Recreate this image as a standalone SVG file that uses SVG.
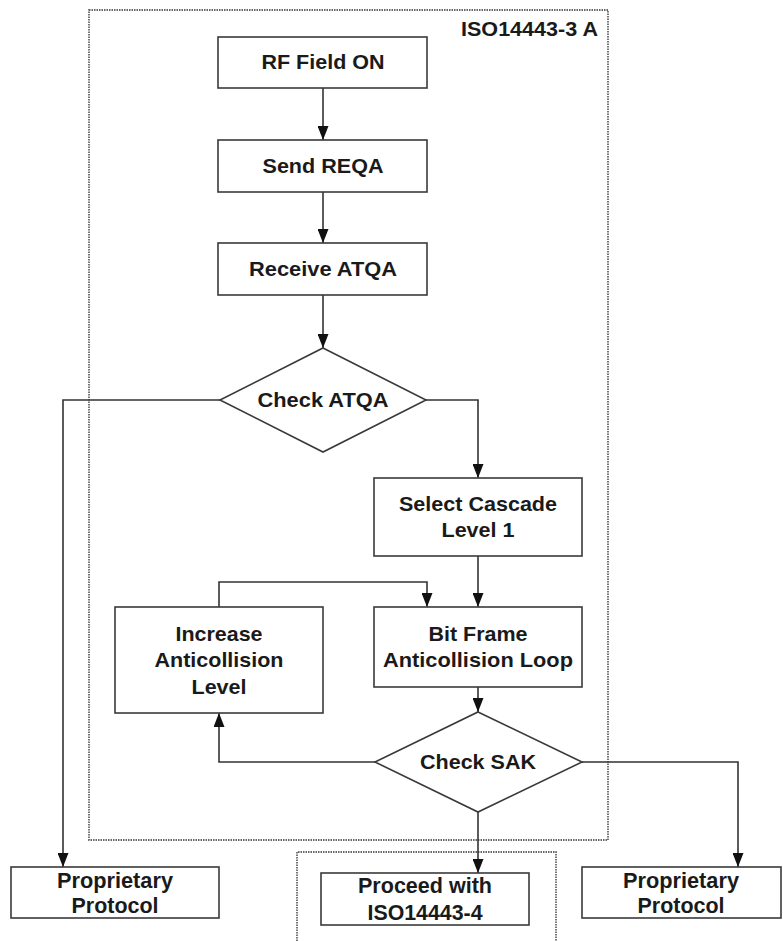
<svg xmlns="http://www.w3.org/2000/svg" width="783" height="941" viewBox="0 0 783 941">
<style>
.box{fill:#fff;stroke:#3a3a3a;stroke-width:1.6}
.frame{fill:none;stroke:#666;stroke-width:1.8;stroke-dasharray:1.5 1}
.t{font-family:"Liberation Sans",Arial,sans-serif;font-weight:bold;font-size:21px;fill:#1a1a1a;text-anchor:middle}
.b{font-size:22px}
.c{fill:none;stroke:#333;stroke-width:1.6}
</style>
<defs>
<marker id="ah" viewBox="0 0 14 11" refX="14" refY="5.5" markerWidth="14" markerHeight="11" markerUnits="userSpaceOnUse" orient="auto">
<path d="M0,0 L14,5.5 L0,11 z" fill="#111"/>
</marker>
</defs>
<rect width="783" height="941" fill="#fff"/>
<g id="frame-iso3">
<rect class="frame" x="89" y="10" width="519" height="830"/>
<text class="t" x="598" y="36" style="text-anchor:end" textLength="137" lengthAdjust="spacingAndGlyphs">ISO14443-3 A</text>
</g>
<g id="frame-iso4">
<path class="frame" d="M297,941 V852 H556 V941"/>
</g>
<g id="connectors">
<path class="c" d="M323,88 V140" marker-end="url(#ah)"/>
<path class="c" d="M323,192 V243" marker-end="url(#ah)"/>
<path class="c" d="M323,295 V348" marker-end="url(#ah)"/>
<path class="c" d="M220,400 H63 V867" marker-end="url(#ah)"/>
<path class="c" d="M426,400 H478 V478" marker-end="url(#ah)"/>
<path class="c" d="M478,556 V607" marker-end="url(#ah)"/>
<path class="c" d="M219,607 V582 H427 V607" marker-end="url(#ah)"/>
<path class="c" d="M478,687 V712" marker-end="url(#ah)"/>
<path class="c" d="M375,762 H219 V713" marker-end="url(#ah)"/>
<path class="c" d="M582,762 H738 V867" marker-end="url(#ah)"/>
<path class="c" d="M478,812 V873" marker-end="url(#ah)"/>
</g>
<g id="rf-field-on">
<rect class="box" x="218" y="37" width="209" height="51"/>
<text class="t" x="323" y="69" textLength="123" lengthAdjust="spacingAndGlyphs">RF Field ON</text>
</g>
<g id="send-reqa">
<rect class="box" x="218" y="140" width="209" height="52"/>
<text class="t" x="323" y="173" textLength="121" lengthAdjust="spacingAndGlyphs">Send REQA</text>
</g>
<g id="receive-atqa">
<rect class="box" x="218" y="243" width="209" height="52"/>
<text class="t" x="323" y="276" textLength="148" lengthAdjust="spacingAndGlyphs">Receive ATQA</text>
</g>
<g id="check-atqa">
<polygon class="box" points="323,348 426,400 323,452 220,400"/>
<text class="t" x="323" y="407" textLength="131" lengthAdjust="spacingAndGlyphs">Check ATQA</text>
</g>
<g id="select-cascade">
<rect class="box" x="374" y="478" width="208" height="78"/>
<text class="t" x="478" y="511" textLength="158" lengthAdjust="spacingAndGlyphs">Select Cascade</text>
<text class="t" x="478" y="537" textLength="73" lengthAdjust="spacingAndGlyphs">Level 1</text>
</g>
<g id="increase-level">
<rect class="box" x="115" y="607" width="208" height="106"/>
<text class="t" x="219" y="641" textLength="87" lengthAdjust="spacingAndGlyphs">Increase</text>
<text class="t" x="219" y="667" textLength="129" lengthAdjust="spacingAndGlyphs">Anticollision</text>
<text class="t" x="219" y="694" textLength="55" lengthAdjust="spacingAndGlyphs">Level</text>
</g>
<g id="bit-frame">
<rect class="box" x="374" y="607" width="208" height="80"/>
<text class="t" x="478" y="641" textLength="99" lengthAdjust="spacingAndGlyphs">Bit Frame</text>
<text class="t" x="478" y="667" textLength="190" lengthAdjust="spacingAndGlyphs">Anticollision Loop</text>
</g>
<g id="check-sak">
<polygon class="box" points="478,712 582,762 478,812 375,762"/>
<text class="t" x="478" y="769" textLength="116" lengthAdjust="spacingAndGlyphs">Check SAK</text>
</g>
<g id="proprietary-left">
<rect class="box" x="11" y="867" width="208" height="51"/>
<text class="t b" x="115" y="888" textLength="116" lengthAdjust="spacingAndGlyphs">Proprietary</text>
<text class="t b" x="115" y="913" textLength="87" lengthAdjust="spacingAndGlyphs">Protocol</text>
</g>
<g id="proceed-iso4">
<rect class="box" x="321" y="873" width="208" height="52"/>
<text class="t b" x="425" y="893" textLength="134" lengthAdjust="spacingAndGlyphs">Proceed with</text>
<text class="t b" x="425" y="920" textLength="115" lengthAdjust="spacingAndGlyphs">ISO14443-4</text>
</g>
<g id="proprietary-right">
<rect class="box" x="582" y="867" width="199" height="51"/>
<text class="t b" x="681" y="888" textLength="116" lengthAdjust="spacingAndGlyphs">Proprietary</text>
<text class="t b" x="681" y="913" textLength="87" lengthAdjust="spacingAndGlyphs">Protocol</text>
</g>
</svg>
